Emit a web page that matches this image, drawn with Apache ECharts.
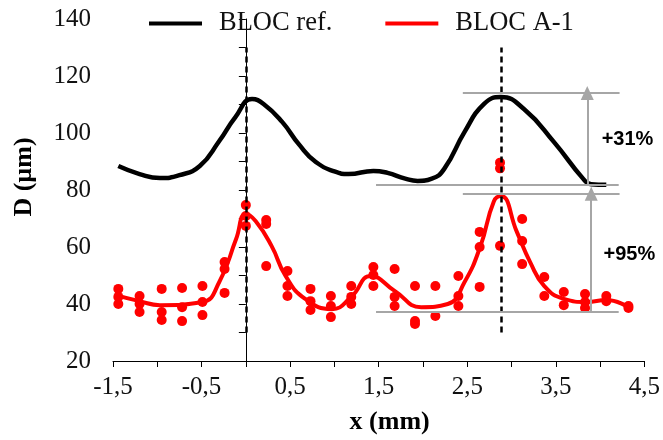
<!DOCTYPE html>
<html>
<head>
<meta charset="utf-8">
<script src="https://cdn.jsdelivr.net/npm/echarts@6/dist/echarts.min.js"></script>
<style>html,body{margin:0;padding:0;background:#fff}#c{width:663px;height:440px}</style>
</head>
<body>
<div id="c"></div>
<script>
// BLOC ref. profile (x mm, D µm)
const refCurve = [[-1.44,88.4],[-1.2,85.6],[-0.97,84.2],[-0.75,85.2],[-0.52,88.4],[-0.3,97.2],[-0.12,105.5],[0.07,111.9],[0.2,110.2],[0.41,103.9],[0.6,96.0],[0.79,89.8],[1.0,86.5],[1.16,85.6],[1.44,86.7],[1.6,86.0],[1.8,84.0],[1.94,83.2],[2.1,84.0],[2.24,87.4],[2.47,100.4],[2.69,110.2],[2.88,112.6],[3.14,108.4],[3.48,96.8],[3.81,83.9],[3.9,82.0],[4.07,81.8]];
// BLOC A-1 fitted curve
const a1Curve = [[-1.48,43.2],[-1.2,41.0],[-0.97,39.6],[-0.49,40.7],[-0.3,47.7],[-0.11,62.8],[0.0,71.6],[0.11,69.1],[0.29,60.4],[0.45,49.8],[0.67,41.8],[0.97,38.2],[1.19,42.5],[1.41,49.8],[1.68,44.6],[1.98,38.9],[2.28,40.0],[2.47,47.7],[2.65,60.4],[2.8,76.0],[2.88,77.9],[3.06,65.3],[3.21,54.7],[3.37,46.3],[3.59,41.8],[3.85,40.7],[4.07,41.4],[4.32,38.9]];
// BLOC A-1 measured points
const a1Points = [
 [-1.44,45.3],[-1.44,42.5],[-1.44,40.0],
 [-1.2,42.8],[-1.2,40.0],[-1.2,37.2],
 [-0.95,45.3],[-0.95,37.2],[-0.95,34.4],
 [-0.72,45.6],[-0.72,38.9],[-0.72,34.0],
 [-0.49,46.3],[-0.49,40.7],[-0.49,36.1],
 [-0.24,54.7],[-0.24,52.3],[-0.24,43.9],
 [0.0,74.7],[0.0,70.9],[0.0,67.4],
 [0.23,69.5],[0.23,68.1],[0.23,53.3],
 [0.47,51.6],[0.47,46.3],[0.47,42.8],
 [0.73,45.3],[0.73,41.0],[0.73,37.9],
 [0.96,42.8],[0.96,39.3],[0.96,35.4],
 [1.19,46.3],[1.19,42.5],[1.19,40.0],
 [1.44,53.0],[1.44,50.2],[1.44,46.3],
 [1.68,52.3],[1.68,42.5],[1.68,39.3],
 [1.91,46.3],[1.91,34.0],[1.91,33.0],
 [2.14,46.3],[2.14,35.8],
 [2.4,49.8],[2.4,42.8],[2.4,39.3],
 [2.64,65.3],[2.64,60.0],[2.64,46.0],
 [2.87,89.6],[2.87,87.6],[2.87,60.4],
 [3.12,69.8],[3.12,62.1],[3.12,54.0],
 [3.37,49.5],[3.37,42.8],
 [3.59,44.2],[3.59,39.6],
 [3.83,43.5],[3.83,40.7],[3.83,38.6],
 [4.07,42.8],[4.07,41.0],
 [4.32,39.3],[4.32,38.6]
];
// tick labels
const xTickLabels = [-1.5,-0.5,0.5,1.5,2.5,3.5,4.5];
const yTickLabels = [20,40,60,80,100,120,140];
// annotations
const peakX = [0.0, 2.883];
const dashRange = [30, 130];
const refLines = [[2.45,4.22,114.0],[1.47,4.21,81.9]];
const a1Lines = [[2.45,4.22,78.7],[1.47,4.21,37.2]];
const arrows = [[3.855,81.9,114.0],[3.90,37.2,78.7]];
const pctLabels = [[4.31,97.9,'+31%'],[4.33,57.2,'+95%']];

const gray = '#a6a6a6';
const hLine = (l) => [{coord:[l[0],l[2]],symbol:'none'},{coord:[l[1],l[2]],symbol:'none'}];
const markLineData = [
  ...peakX.map(x => [{coord:[x,dashRange[0]],symbol:'none',lineStyle:{color:'#000',type:[6,4],width:2.5}},{coord:[x,dashRange[1]],symbol:'none'}]),
  ...refLines.map(hLine),
  ...a1Lines.map(hLine),
  ...arrows.map(a => [{coord:[a[0],a[1]],symbol:'none'},{coord:[a[0],a[2]],symbol:'triangle',symbolSize:[13,14]}])
];

const chart = echarts.init(document.getElementById('c'), null, {renderer:'canvas'});
const serif = '"Liberation Serif","Times New Roman",serif';
chart.setOption({
  animation:false,
  grid:{left:113,right:15,top:19,bottom:77},
  legend:{
    left:149, top:10, padding:0, itemWidth:53, itemHeight:4, itemGap:53,
    textStyle:{fontFamily:serif,fontSize:26.5,color:'#111',padding:[0,0,0,12]},
    data:[{name:'BLOC ref.',icon:'rect',itemStyle:{color:'#000'}},{name:'BLOC A-1',icon:'rect',itemStyle:{color:'#ff0000'}}]
  },
  xAxis:{
    type:'value', min:-1.5, max:4.5, interval:0.5,
    name:'x (mm)', nameLocation:'middle', nameGap:48,
    nameTextStyle:{fontFamily:serif,fontSize:26,fontWeight:'bold',color:'#000',padding:[0,0,0,22]},
    axisLine:{lineStyle:{color:'#000',width:1}},
    axisTick:{show:true,length:6,lineStyle:{color:'#000'}},
    splitLine:{show:false},
    axisLabel:{fontFamily:serif,fontSize:25,color:'#111',margin:14,
      formatter:v => xTickLabels.some(t=>Math.abs(t-v)<1e-6) ? String(v).replace('.',',') : ''}
  },
  yAxis:{
    type:'value', min:20, max:140, interval:10,
    name:'D (µm)', nameLocation:'middle', nameGap:76, nameRotate:90,
    nameTextStyle:{fontFamily:serif,fontSize:26,fontWeight:'bold',color:'#000',padding:[0,0,0,26]},
    axisLine:{show:true,lineStyle:{color:'#000',width:1}},
    axisTick:{show:true,length:7,lineStyle:{color:'#000'}},
    splitLine:{show:false},
    axisLabel:{fontFamily:serif,fontSize:25,color:'#111',margin:22,
      formatter:v => yTickLabels.includes(v) ? String(v) : ''}
  },
  series:[
    {name:'BLOC ref.', type:'line', data:refCurve, smooth:0.5, showSymbol:false, z:2,
     lineStyle:{color:'#000',width:4.5}, itemStyle:{color:'#000'},
     markLine:{silent:true, symbol:['none','none'], label:{show:false}, animation:false,
       lineStyle:{color:gray,width:2,type:'solid'}, data:markLineData},
     markPoint:{silent:true, data:pctLabels.map(p=>({coord:[p[0],p[1]],symbol:'circle',symbolSize:0,
       label:{show:true,position:'inside',formatter:p[2],fontFamily:'"Liberation Sans",Arial,sans-serif',fontWeight:'bold',fontSize:20,color:'#000'}}))}
    },
    {name:'BLOC A-1', type:'line', data:a1Curve, smooth:0.5, showSymbol:false, z:3,
     lineStyle:{color:'#ff0000',width:4}, itemStyle:{color:'#ff0000'}},
    {name:'BLOC A-1 points', type:'scatter', data:a1Points, symbolSize:10, z:4,
     itemStyle:{color:'#ff0000',opacity:1}}
  ]
});
</script>
</body>
</html>
